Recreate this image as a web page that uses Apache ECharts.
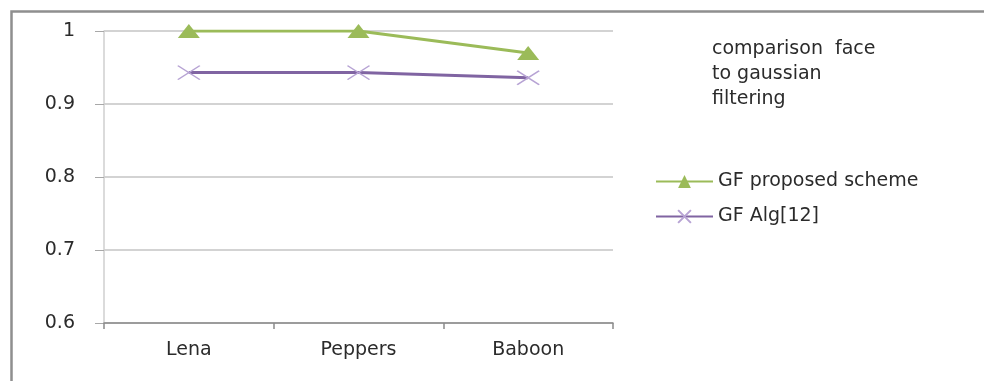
<!DOCTYPE html>
<html>
<head>
<meta charset="utf-8">
<script src="https://cdn.jsdelivr.net/npm/echarts@6/dist/echarts.min.js"></script>
<style>
  html, body { margin: 0; padding: 0; background: #fff; }
  #chart { width: 984px; height: 381px; }
</style>
</head>
<body>
<div id="chart"></div>
<script>
// Test images and the two gaussian-filtering results compared on them
const categories = ['Lena', 'Peppers', 'Baboon'];
const proposedScheme = [1, 1, 0.97];
const algRef12 = [0.943, 0.943, 0.936];
const seriesNames = ['GF proposed scheme', 'GF Alg[12]'];
const yTicks = { min: 0.6, max: 1, step: 0.1 };
const noteText = 'comparison  face\nto gaussian\nfiltering';

const FONT = 'DejaVu Sans';
const FONT_SIZE = 19;
const GREEN = '#9bbb59';
const PURPLE = '#8064a2';

const chart = echarts.init(document.getElementById('chart'), null, { renderer: 'canvas' });

chart.setOption({
  animation: false,
  backgroundColor: '#ffffff',
  textStyle: { fontFamily: FONT },
  graphic: [
    {
      type: 'rect',
      left: 9, top: 9,
      shape: { width: 1000, height: 400 },
      style: { fill: 'none', stroke: '#8f8f8f', lineWidth: 2.5 },
      silent: true
    },
    {
      type: 'text',
      left: 712, top: 37,
      style: {
        text: noteText,
        font: FONT_SIZE + 'px "DejaVu Sans"',
        fill: '#2b2b2b',
        lineHeight: 25
      }
    }
  ],
  legend: {
    orient: 'vertical',
    left: 650,
    top: 167,
    itemWidth: 57,
    itemHeight: 16,
    itemGap: 16,
    textStyle: { fontFamily: FONT, fontSize: FONT_SIZE, lineHeight: 16, color: '#2b2b2b', padding: [0, 0, 0, 0] },
    data: seriesNames
  },
  grid: { left: 104, top: 31, width: 509, bottom: 58, containLabel: false },
  xAxis: {
    type: 'category',
    data: categories,
    boundaryGap: true,
    axisLine: { show: true, lineStyle: { color: '#8a8a8a', width: 1.5 } },
    axisTick: { show: true, alignWithLabel: false, length: 6, lineStyle: { color: '#8a8a8a', width: 1.5 } },
    axisLabel: { fontFamily: FONT, fontSize: FONT_SIZE, color: '#2b2b2b', margin: 18 },
    splitLine: { show: false }
  },
  yAxis: {
    type: 'value',
    min: yTicks.min,
    max: yTicks.max,
    interval: yTicks.step,
    axisLine: { show: true, lineStyle: { color: '#cfcfcf', width: 1.5 } },
    axisTick: { show: true, inside: false, length: 9, lineStyle: { color: '#a8a8a8' } },
    axisLabel: {
      fontFamily: FONT, fontSize: FONT_SIZE, color: '#2b2b2b', margin: 29,
      formatter: v => (Math.round(v * 10) / 10).toString()
    },
    splitLine: { show: true, lineStyle: { color: '#c4c4c4', width: 1.5 } }
  },
  series: [
    {
      name: seriesNames[0],
      type: 'line',
      data: proposedScheme,
      symbol: 'triangle',
      symbolSize: [22, 14],
      lineStyle: { color: GREEN, width: 3 },
      itemStyle: { color: GREEN },
      z: 3
    },
    {
      name: seriesNames[1],
      type: 'line',
      data: algRef12,
      symbol: 'path://M0,0L10,10M10,0L0,10',
      symbolSize: [22, 14],
      lineStyle: { color: PURPLE, width: 3 },
      itemStyle: { color: 'rgba(0,0,0,0)', borderColor: '#b7a3d4', borderWidth: 1.5 },
      z: 2
    }
  ]
});
</script>
</body>
</html>
